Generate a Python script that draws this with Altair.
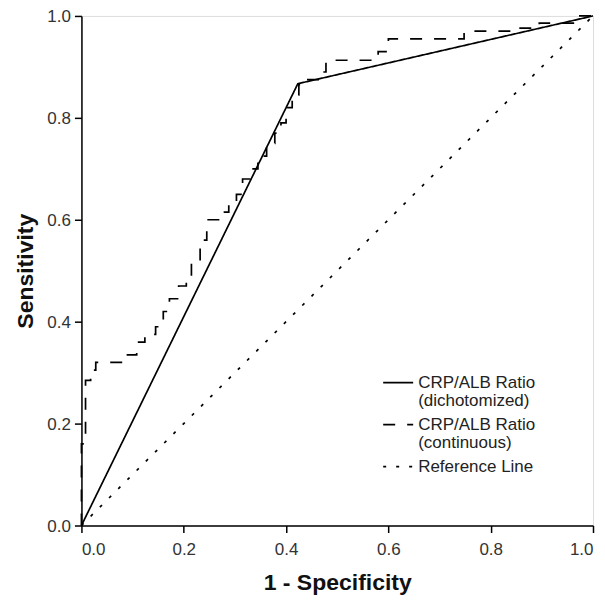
import altair as alt
import pandas as pd

# Series names (legend entries)
series_names = [
    "CRP/ALB Ratio\n(dichotomized)",
    "CRP/ALB Ratio\n(continuous)",
    "Reference Line",
]

# Dichotomized ROC curve
dich_x = [0.0, 0.423, 1.0]
dich_y = [0.0, 0.867, 1.0]

# Continuous ROC curve (staircase corners)
cont_x = [0.0, 0.0, 0.008, 0.008, 0.018, 0.018, 0.028, 0.028, 0.09, 0.09,
          0.108, 0.108, 0.124, 0.124, 0.145, 0.145, 0.16, 0.16, 0.172, 0.172,
          0.19, 0.19, 0.205, 0.205, 0.215, 0.215, 0.232, 0.232, 0.245, 0.245,
          0.268, 0.268, 0.288, 0.288, 0.303, 0.303, 0.315, 0.315, 0.33, 0.33,
          0.345, 0.345, 0.362, 0.362, 0.378, 0.378, 0.39, 0.39, 0.4, 0.4,
          0.412, 0.412, 0.425, 0.425, 0.44, 0.44, 0.468, 0.468, 0.478, 0.478,
          0.58, 0.58, 0.6, 0.6, 0.748, 0.748, 0.84, 0.84, 0.895, 0.895,
          0.97, 0.97, 1.0]
cont_y = [0.0, 0.16, 0.16, 0.285, 0.285, 0.305, 0.305, 0.32, 0.32, 0.335,
          0.335, 0.36, 0.36, 0.375, 0.375, 0.39, 0.39, 0.42, 0.42, 0.445,
          0.445, 0.47, 0.47, 0.49, 0.49, 0.52, 0.52, 0.56, 0.56, 0.6,
          0.6, 0.615, 0.615, 0.63, 0.63, 0.65, 0.65, 0.68, 0.68, 0.70,
          0.70, 0.725, 0.725, 0.75, 0.75, 0.77, 0.77, 0.79, 0.79, 0.82,
          0.82, 0.845, 0.845, 0.865, 0.865, 0.875, 0.875, 0.89, 0.89, 0.913,
          0.913, 0.93, 0.93, 0.955, 0.955, 0.97, 0.97, 0.976, 0.976, 0.986,
          0.986, 1.0, 1.0]

# Reference (chance) line
ref_x = [0.0, 1.0]
ref_y = [0.0, 1.0]

axis_ticks = [0.0, 0.2, 0.4, 0.6, 0.8, 1.0]

rows = []
for name, xs, ys in zip(series_names, [dich_x, cont_x, ref_x], [dich_y, cont_y, ref_y]):
    for i, (xv, yv) in enumerate(zip(xs, ys)):
        rows.append({"series": name, "fpr": xv, "tpr": yv, "order": i})
df = pd.DataFrame(rows)

axis_common = dict(
    values=axis_ticks,
    format=".1f",
    grid=False,
    domainColor="black",
    domainWidth=1.5,
    tickColor="black",
    tickWidth=1.5,
    tickSize=7,
    labelFont="Liberation Sans",
    labelFontSize=17,
    labelColor="#333333",
    titleFont="Liberation Sans",
    titleFontSize=23,
    titleFontWeight="bold",
    titleColor="#111111",
)

chart = (
    alt.Chart(df)
    .mark_line(color="black", strokeWidth=1.7)
    .encode(
        x=alt.X(
            "fpr:Q",
            scale=alt.Scale(domain=[0, 1], nice=False, zero=False),
            axis=alt.Axis(title="1 - Specificity", labelPadding=9,
                          titlePadding=14, **axis_common),
        ),
        y=alt.Y(
            "tpr:Q",
            scale=alt.Scale(domain=[0, 1], nice=False, zero=False),
            axis=alt.Axis(title="Sensitivity", labelPadding=4, labelOffset=1,
                          titlePadding=9, **axis_common),
        ),
        strokeDash=alt.StrokeDash(
            "series:N",
            scale=alt.Scale(domain=series_names,
                            range=[[1, 0], [12, 12], [3, 10]]),
            legend=alt.Legend(
                title=None,
                orient="none",
                legendX=301,
                legendY=351,
                symbolType="stroke",
                symbolSize=900,
                symbolStrokeWidth=1.7,
                symbolStrokeColor="black",
                labelFont="Liberation Sans",
                labelFontSize=17,
                labelColor="#222222",
                labelLimit=0,
                labelOffset=4,
                labelExpr="split(datum.label, '\\n')",
                rowPadding=0,
                padding=0,
            ),
        ),
        order="order:Q",
        detail="series:N",
    )
    .properties(
        width=512,
        height=510,
        autosize=alt.AutoSizeParams(type="none"),
        padding={"left": 73.5, "top": 7.7, "right": 4, "bottom": 70},
    )
    .configure_view(stroke="black", strokeWidth=1.5)
    .configure(background="white", style={"guide-label": {"lineHeight": 18}})
)

chart.save("out.html", embed_options={"renderer": "svg", "actions": False})
